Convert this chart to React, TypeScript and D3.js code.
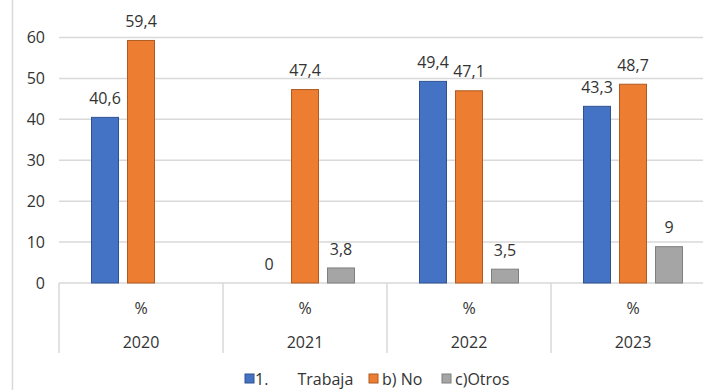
import React from "react";
import * as d3 from "d3";

const years = ["2020", "2021", "2022", "2023"];
const subLabel = "%";
const seriesNames = ["1.       Trabaja", "b) No", "c)Otros"];
const trabaja: (number | null)[] = [40.6, 0, 49.4, 43.3];
const no: (number | null)[] = [59.4, 47.4, 47.1, 48.7];
const otros: (number | null)[] = [null, 3.8, 3.5, 9];
const yTicks = [0, 10, 20, 30, 40, 50, 60];

const fills = ["#4472c4", "#ed7d31", "#a5a5a5"];
const strokes = ["#2f528f", "#ae5a21", "#7f7f7f"];

const W = 703;
const H = 390;
const FONT = "'Open Sans', 'Noto Sans', sans-serif";
const FS = 16;
const TEXT = "#333333";
const GRID = "#d9d9d9";

export default function App() {
  const series = [trabaja, no, otros];
  const plotLeft = 59;
  const step = 164;
  const x0 = d3
    .scaleBand<string>()
    .domain(years)
    .range([plotLeft, plotLeft + step * years.length])
    .padding(0);
  const x1 = d3
    .scaleBand<number>()
    .domain([0, 1, 2])
    .range([0, x0.bandwidth()])
    .paddingInner(8 / 36)
    .paddingOuter(0.8889);
  const y = d3.scaleLinear().domain([0, 60]).range([283, 37.5]);
  const fmt = (v: number) => String(v).replace(".", ",");
  const base = y(0);

  const legendItems = [
    { x: 245, textX: 255 },
    { x: 369, textX: 382 },
    { x: 442, textX: 455 },
  ];

  return (
    <svg
      width={W}
      height={H}
      style={{ position: "absolute", left: 0, top: 0, background: "#fff" }}
      fontFamily={FONT}
    >
      <rect x={0} y={0} width={W} height={H} fill="#fff" />
      <line x1={12.5} x2={12.5} y1={0} y2={H} stroke={GRID} strokeWidth={1.5} />

      {yTicks.map((t) => (
        <g key={t}>
          <line
            x1={plotLeft}
            x2={W}
            y1={y(t)}
            y2={y(t)}
            stroke={GRID}
            strokeWidth={1.5}
          />
          <text
            x={45}
            y={y(t)}
            dy="0.35em"
            textAnchor="end"
            fontSize={FS}
            fill={TEXT}
          >
            {t}
          </text>
        </g>
      ))}

      {years.map((yr, i) => {
        const bx = x0(yr)!;
        return (
          <g key={yr}>
            <line
              x1={bx}
              x2={bx}
              y1={base}
              y2={353}
              stroke={GRID}
              strokeWidth={1.5}
            />
            <text
              x={bx + x0.bandwidth() / 2}
              y={308}
              dy="0.35em"
              textAnchor="middle"
              fontSize={FS}
              fill={TEXT}
            >
              {subLabel}
            </text>
            <text
              x={bx + x0.bandwidth() / 2}
              y={342}
              dy="0.35em"
              textAnchor="middle"
              fontSize={FS}
              fill={TEXT}
            >
              {yr}
            </text>
            {series.map((s, si) => {
              const v = s[i];
              if (v === null) return null;
              const left = bx + x1(si)!;
              const top = y(v);
              return (
                <g key={si}>
                  {v > 0 && (
                    <rect
                      x={left + 0.5}
                      y={top + 0.5}
                      width={x1.bandwidth() - 1}
                      height={base - top - 0.5}
                      fill={fills[si]}
                      stroke={strokes[si]}
                      strokeWidth={1}
                    />
                  )}
                  <text
                    x={left + x1.bandwidth() / 2}
                    y={top - 18.5}
                    dy="0.35em"
                    textAnchor="middle"
                    fontSize={FS}
                    fill={TEXT}
                  >
                    {fmt(v)}
                  </text>
                </g>
              );
            })}
          </g>
        );
      })}

      {seriesNames.map((name, si) => (
        <g key={name}>
          <rect
            x={legendItems[si].x}
            y={374}
            width={9}
            height={9}
            fill={fills[si]}
            stroke={strokes[si]}
            strokeWidth={1}
          />
          <text
            x={legendItems[si].textX}
            y={379}
            dy="0.35em"
            fontSize={FS}
            fill={TEXT}
            style={{ whiteSpace: "pre" }}
          >
            {name}
          </text>
        </g>
      ))}
    </svg>
  );
}
